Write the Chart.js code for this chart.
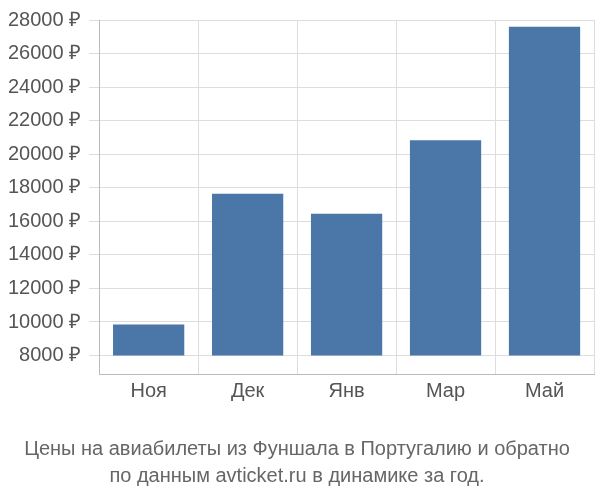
<!DOCTYPE html>
<html>
<head>
<meta charset="utf-8">
<script src="https://cdn.jsdelivr.net/npm/chart.js@4"></script>
<style>
  html, body { margin: 0; padding: 0; background: #fff; }
  #wrap { width: 600px; height: 500px; }
</style>
</head>
<body>
<div id="wrap"><canvas id="priceChart"></canvas></div>
<script>
var months = ['Ноя', 'Дек', 'Янв', 'Мар', 'Май'];
var prices = [9850, 17650, 16450, 20830, 27600];
var yTicks = [8000, 10000, 12000, 14000, 16000, 18000, 20000, 22000, 24000, 26000, 28000];
var baseValue = 8000;

document.addEventListener('DOMContentLoaded', function() {
    var ctx = document.getElementById('priceChart').getContext('2d');
    new Chart(ctx, {
        type: 'bar',
        data: {
            labels: months,
            datasets: [{
                data: prices.map(function(v) { return [baseValue, v]; }),
                backgroundColor: '#4a76a8',
                barPercentage: 0.72,
                categoryPercentage: 1
            }]
        },
        options: {
            responsive: true,
            maintainAspectRatio: false,
            animation: false,
            layout: { padding: { top: 6, right: 6, left: 0, bottom: 0 } },
            plugins: {
                legend: { display: false },
                tooltip: { enabled: false },
                title: {
                    display: true,
                    position: 'bottom',
                    text: ['Цены на авиабилеты из Фуншала в Португалию и обратно', 'по данным avticket.ru в динамике за год.'],
                    color: '#666',
                    font: { family: 'Liberation Sans', size: 20, weight: 'normal', lineHeight: 1.35 },
                    padding: { top: 28, bottom: 10 }
                }
            },
            scales: {
                x: {
                    grid: { color: '#ddd', offset: true, tickLength: 0 },
                    border: { color: '#bbb' },
                    ticks: { color: '#555', font: { family: 'Liberation Sans', size: 20 }, padding: 5 }
                },
                y: {
                    min: 6900,
                    max: 28000,
                    afterBuildTicks: function(axis) {
                        axis.ticks = yTicks.map(function(v) { return { value: v }; });
                    },
                    grid: { color: '#ddd', tickLength: 10 },
                    border: { color: '#bbb' },
                    ticks: {
                        color: '#555',
                        font: { family: 'Liberation Sans', size: 20 },
                        padding: 8,
                        callback: function(v) { return v + ' ₽'; }
                    }
                }
            }
        }
    });
});
</script>
</body>
</html>
